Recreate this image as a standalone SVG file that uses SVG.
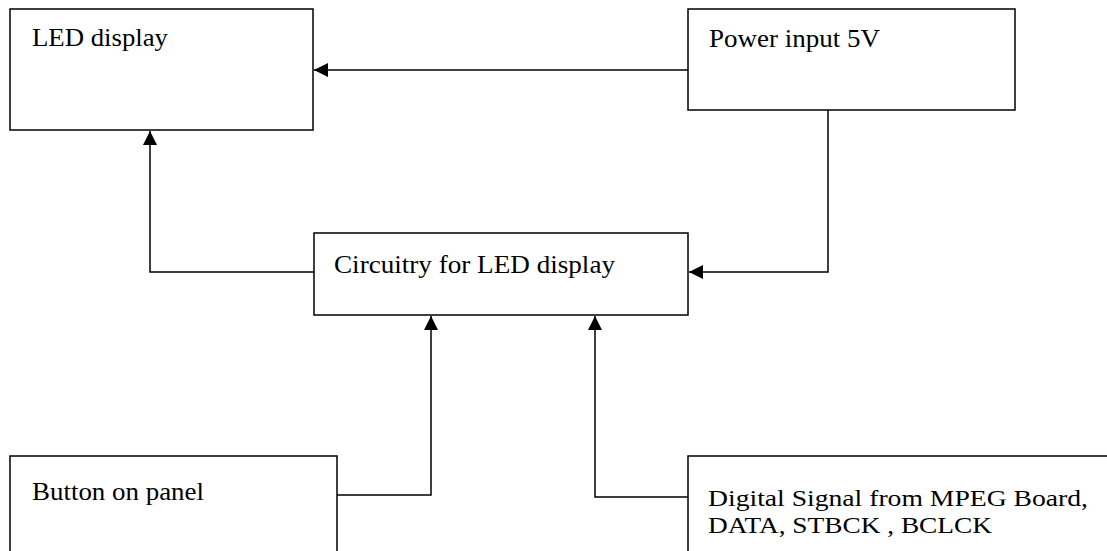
<svg xmlns="http://www.w3.org/2000/svg" width="1107" height="551" viewBox="0 0 1107 551">
<style>
.box{fill:#fff;stroke:#000;stroke-width:1.5}
.t{font-family:"Liberation Serif","Times New Roman",serif;font-size:26px;fill:#000}
.s{font-size:24px}
.c{fill:none;stroke:#000;stroke-width:1.5}
</style>
<defs>
<marker id="ah" viewBox="0 0 14 14" refX="14" refY="7" markerWidth="14" markerHeight="14" markerUnits="userSpaceOnUse" orient="auto">
<path d="M0,0 L14,7 L0,14 Z" fill="#000"/>
</marker>
</defs>
<rect width="1107" height="551" fill="#fff"/>
<g id="led">
<rect class="box" x="10" y="9" width="303" height="121"/>
<text class="t" x="32" y="46" textLength="136" lengthAdjust="spacingAndGlyphs">LED display</text>
</g>
<g id="power">
<rect class="box" x="688" y="9" width="327" height="101"/>
<text class="t" x="709" y="47" textLength="171" lengthAdjust="spacingAndGlyphs">Power input 5V</text>
</g>
<g id="circuitry">
<rect class="box" x="314" y="233" width="374" height="82"/>
<text class="t" x="334" y="273" textLength="281" lengthAdjust="spacingAndGlyphs">Circuitry for LED display</text>
</g>
<g id="button">
<path class="box" d="M10,560 L10,456 L337,456 L337,560"/>
<text class="t" x="32" y="500" textLength="172" lengthAdjust="spacingAndGlyphs">Button on panel</text>
</g>
<g id="digital">
<path class="box" d="M688,560 L688,456 L1120,456"/>
<text class="t s" x="708" y="506" textLength="380" lengthAdjust="spacingAndGlyphs">Digital Signal from MPEG Board,</text>
<text class="t s" x="708" y="533" textLength="284" lengthAdjust="spacingAndGlyphs">DATA, STBCK , BCLCK</text>
</g>
<g id="connectors">
<path class="c" d="M688,70 L314,70" marker-end="url(#ah)"/>
<path class="c" d="M828,110 L828,272 L689,272" marker-end="url(#ah)"/>
<path class="c" d="M314,272 L150,272 L150,131" marker-end="url(#ah)"/>
<path class="c" d="M337,495 L431,495 L431,316" marker-end="url(#ah)"/>
<path class="c" d="M688,497 L595,497 L595,316" marker-end="url(#ah)"/>
</g>
</svg>
